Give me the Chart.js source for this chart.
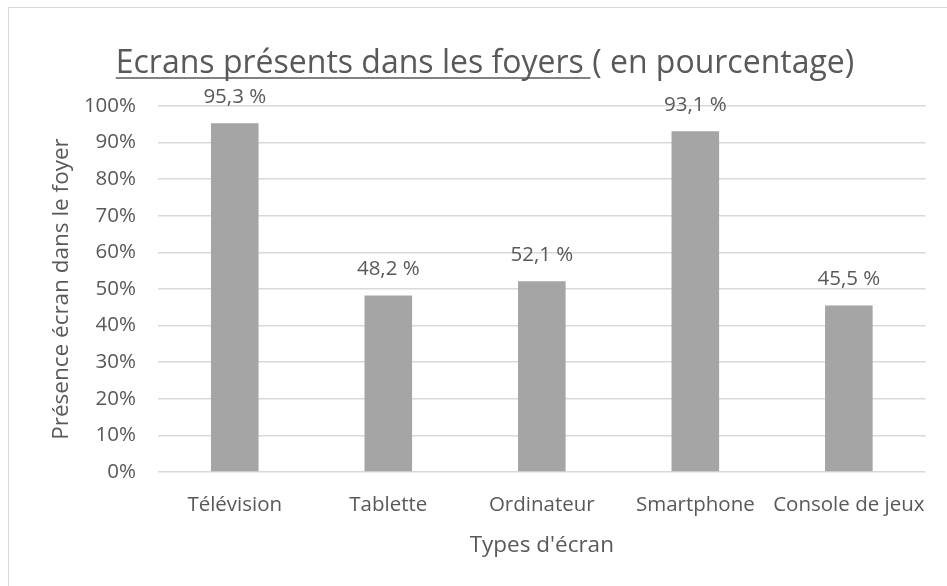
<!DOCTYPE html>
<html>
<head>
<meta charset="utf-8">
<script src="https://cdn.jsdelivr.net/npm/chart.js@4"></script>
<style>
  html, body { margin: 0; padding: 0; background: #fff; overflow: hidden; }
  #wrap { position: relative; width: 947px; height: 586px; }
  #frame { position: absolute; left: 8px; top: 7px; width: 1000px; height: 1000px; border: 1px solid #d9d9d9; box-sizing: border-box; }
  canvas { position: absolute; left: 0; top: 0; }
</style>
</head>
<body>
<div id="wrap">
  <div id="frame"></div>
  <canvas id="c" width="947" height="586"></canvas>
</div>
<script>
const categories = ["Télévision", "Tablette", "Ordinateur", "Smartphone", "Console de jeux"];
const values = [95.3, 48.2, 52.1, 93.1, 45.5];
const valueLabels = ["95,3 %", "48,2 %", "52,1 %", "93,1 %", "45,5 %"];
const titleUnderlined = "Ecrans présents dans les foyers ";
const titleRest = "( en pourcentage)";
const yTitle = "Présence écran dans le foyer";
const xTitle = "Types d'écran";

const FONT = "'Open Sans', sans-serif";
const TXT = "#595959";

const titlePlugin = {
  id: 'ulTitle',
  afterDraw(chart) {
    const ctx = chart.ctx;
    ctx.save();
    ctx.font = "32px " + FONT;
    ctx.fillStyle = TXT;
    ctx.textBaseline = 'alphabetic';
    const w1 = ctx.measureText(titleUnderlined).width;
    const w2 = ctx.measureText(titleRest).width;
    const cx = 485;
    const x0 = cx - (w1 + w2) / 2;
    const base = 73;
    ctx.textAlign = 'left';
    ctx.fillText(titleUnderlined, x0, base);
    ctx.fillText(titleRest, x0 + w1, base);
    const spaceW = ctx.measureText(" ").width;
    ctx.strokeStyle = TXT;
    ctx.lineWidth = 1.5;
    ctx.beginPath();
    ctx.moveTo(x0, base + 5);
    ctx.lineTo(x0 + w1 - spaceW * 0.2, base + 5);
    ctx.stroke();
    ctx.restore();
  }
};

const labelPlugin = {
  id: 'valLabels',
  afterDatasetsDraw(chart) {
    const ctx = chart.ctx;
    const meta = chart.getDatasetMeta(0);
    ctx.save();
    ctx.font = "20.5px " + FONT;
    ctx.fillStyle = TXT;
    ctx.textAlign = 'center';
    ctx.textBaseline = 'middle';
    meta.data.forEach((bar, i) => {
      ctx.fillText(valueLabels[i], bar.x, bar.y - 26);
    });
    ctx.restore();
  }
};

new Chart(document.getElementById('c'), {
  type: 'bar',
  data: {
    labels: categories,
    datasets: [{
      data: values,
      backgroundColor: '#a5a5a5',
      borderWidth: 0,
      barPercentage: 0.31,
      categoryPercentage: 1.0
    }]
  },
  options: {
    responsive: false,
    animation: false,
    devicePixelRatio: 1,
    layout: { padding: { top: 106, right: 15, left: 48, bottom: 27 } },
    plugins: {
      legend: { display: false },
      title: { display: false },
      tooltip: { enabled: false }
    },
    scales: {
      x: {
        grid: { display: false, drawTicks: false },
        border: { display: false },
        ticks: { color: TXT, font: { family: FONT, size: 20.5 }, padding: 21, maxRotation: 0, autoSkip: false },
        title: { display: true, text: xTitle, color: TXT, font: { family: FONT, size: 22.5 }, padding: { top: 0, bottom: 0 } },
        afterFit(s) { s.height = 586 - 472 - 27; }
      },
      y: {
        min: 0, max: 100,
        ticks: { stepSize: 10, color: TXT, font: { family: FONT, size: 20.5 }, padding: 22, callback: v => v + '%' },
        grid: { color: '#d9d9d9', lineWidth: 1.5, drawTicks: false },
        border: { display: false },
        title: { display: true, text: yTitle, color: TXT, font: { family: FONT, size: 22.5 }, padding: 0 },
        afterFit(s) { s.width = 158 - 48; }
      }
    }
  },
  plugins: [titlePlugin, labelPlugin]
});
</script>
</body>
</html>
